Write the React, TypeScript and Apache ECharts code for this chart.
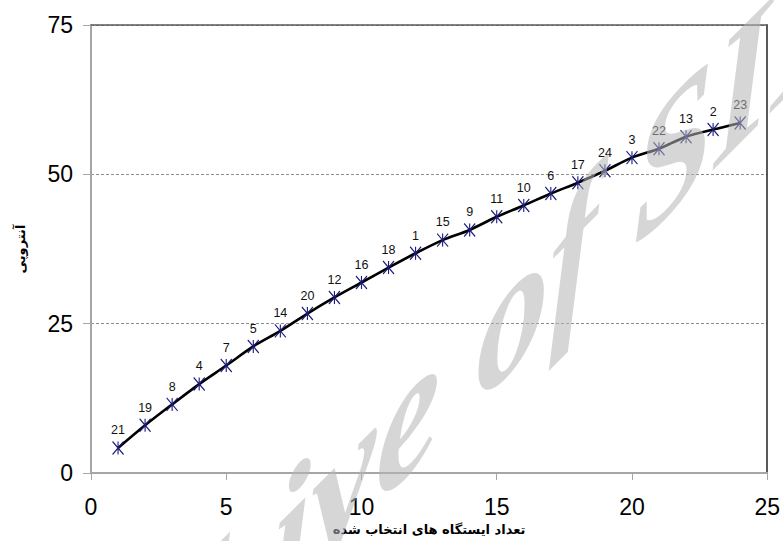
import React, { useEffect, useRef } from "react";
import * as echarts from "echarts";

const selectedCounts = [1, 2, 3, 4, 5, 6, 7, 8, 9, 10, 11, 12, 13, 14, 15, 16, 17, 18, 19, 20, 21, 22, 23, 24];
const stationIds = [21, 19, 8, 4, 7, 5, 14, 20, 12, 16, 18, 1, 15, 9, 11, 10, 6, 17, 24, 3, 22, 13, 2, 23];
const entropyValues = [4.2, 8.0, 11.5, 14.9, 18.0, 21.2, 23.8, 26.7, 29.4, 31.9, 34.4, 36.8, 39.0, 40.7, 42.9, 44.8, 46.8, 48.6, 50.6, 52.8, 54.3, 56.3, 57.5, 58.6];
const xTicks = [0, 5, 10, 15, 20, 25];
const yTicks = [0, 25, 50, 75];

const xTitle = "تعداد ایستگاه های انتخاب شده";
const yTitle = "آنتروپی";
const watermark = "Archive of SID";

export default function App() {
  const ref = useRef<HTMLDivElement>(null);
  useEffect(() => {
    if (!ref.current) return;
    const chart = echarts.init(ref.current, null, { renderer: "svg" });
    const data = selectedCounts.map((x, i) => [x, entropyValues[i], stationIds[i]]);
    const tickFont = { fontFamily: '"Liberation Sans", Arial, sans-serif', fontSize: 23, color: "#000" };
    chart.setOption({
      animation: false,
      backgroundColor: "#fff",
      grid: { left: 91, right: 12, top: 25, bottom: 66, containLabel: false },
      xAxis: [
        {
          type: "value",
          min: xTicks[0],
          max: xTicks[xTicks.length - 1],
          interval: 5,
          position: "bottom",
          axisLine: { show: true, onZero: false, lineStyle: { color: "#a6a6a6", width: 2 } },
          axisTick: { show: true, inside: false, length: 7, lineStyle: { color: "#a6a6a6", width: 1 } },
          axisLabel: { ...tickFont, margin: 22 },
          splitLine: { show: false },
          name: xTitle,
          nameLocation: "middle",
          nameGap: 42,
          nameTextStyle: { fontFamily: '"DejaVu Sans", sans-serif', fontSize: 13, fontWeight: "bold", color: "#000" },
        },
        {
          type: "value",
          min: 0,
          max: 25,
          position: "top",
          axisLine: { show: true, onZero: false, lineStyle: { color: "#5a5a5a", width: 1.5 } },
          axisTick: { show: false },
          axisLabel: { show: false },
          splitLine: { show: false },
        },
      ],
      yAxis: [
        {
          type: "value",
          min: yTicks[0],
          max: yTicks[yTicks.length - 1],
          interval: 25,
          position: "left",
          axisLine: { show: true, onZero: false, lineStyle: { color: "#a6a6a6", width: 2 } },
          axisTick: { show: true, inside: false, length: 8, lineStyle: { color: "#a6a6a6", width: 1 } },
          axisLabel: { ...tickFont, margin: 18 },
          splitLine: { show: true, lineStyle: { color: "#8c8c8c", type: [3, 2], width: 1 } },
          name: yTitle,
          nameLocation: "middle",
          nameRotate: 90,
          nameGap: 64,
          nameTextStyle: { fontFamily: '"DejaVu Sans", sans-serif', fontSize: 13, fontWeight: "bold", color: "#000" },
        },
        {
          type: "value",
          min: 0,
          max: 75,
          position: "right",
          axisLine: { show: true, onZero: false, lineStyle: { color: "#222", width: 1.5 } },
          axisTick: { show: false },
          axisLabel: { show: false },
          splitLine: { show: false },
        },
      ],
      series: [
        {
          type: "line",
          data,
          smooth: 0.3,
          lineStyle: { color: "#000", width: 2.6 },
          symbol: "path://M0,0L10,12M10,0L0,12M5,0L5,12",
          symbolSize: [11, 13],
          itemStyle: { color: "#1b1b7a", borderColor: "#1b1b7a", borderWidth: 1.2 },
          label: {
            show: true,
            position: "top",
            distance: 4,
            formatter: (p: any) => String(p.value[2]),
            fontFamily: '"Liberation Sans", Arial, sans-serif',
            fontSize: 12.5,
            color: "#111",
          },
          z: 3,
        },
      ],
      graphic: [
        {
          type: "text",
          x: 424,
          y: 400,
          skewY: 0.785,
          scaleY: 1.2,
          z: 100,
          silent: true,
          style: {
            text: watermark,
            font: 'bold italic 145px "Liberation Serif", serif',
            fill: "rgba(180,180,180,0.55)",
            textAlign: "center",
            textVerticalAlign: "middle",
          },
        },
      ],
    });
    return () => chart.dispose();
  }, []);
  return <div ref={ref} style={{ width: 783, height: 541, position: "absolute", left: 0, top: 0 }} />;
}
